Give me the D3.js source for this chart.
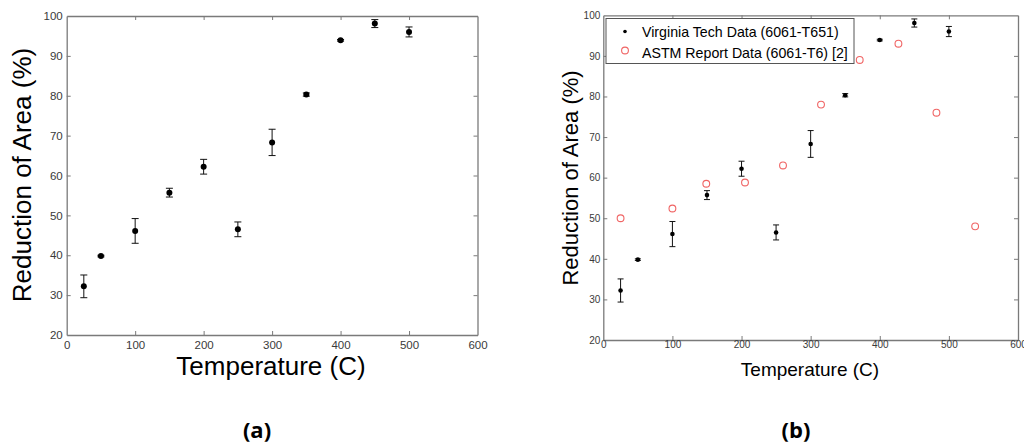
<!DOCTYPE html>
<html>
<head>
<meta charset="utf-8">
<script src="https://cdn.jsdelivr.net/npm/d3@7"></script>
<style>
html,body{margin:0;padding:0;background:#fff;}
svg{display:block;font-family:"Liberation Sans",Arial,sans-serif;}
</style>
</head>
<body>
<svg id="chart" width="1024" height="447"></svg>
<script>
// Virginia Tech data (6061-T651)
const vtTemps = [25, 50, 100, 150, 200, 250, 300, 350, 400, 450, 500];
const vtRA    = [32.2, 39.8, 46.1, 55.7, 62.2, 46.5, 68.3, 80.3, 93.9, 98.1, 96.0];
const vtErr   = [2.85, 0.2, 3.1, 1.1, 1.85, 1.85, 3.3, 0.4, 0.2, 1.0, 1.25];
// ASTM report data (6061-T6) [2]
const astmTemps = [25, 100, 149, 205, 260, 315, 371, 427, 482, 538];
const astmRA    = [50, 52.4, 58.5, 58.8, 63, 78, 89, 93, 76, 48];
// axis ticks
const xTicks = [0, 100, 200, 300, 400, 500, 600];
const yTicks = [20, 30, 40, 50, 60, 70, 80, 90, 100];
const xLabel = "Temperature (C)";
const yLabel = "Reduction of Area (%)";
const legendLabels = ["Virginia Tech Data (6061-T651)", "ASTM Report Data (6061-T6) [2]"];
const captions = ["(a)", "(b)"];

const svg = d3.select("#chart");
const frameColor = "#7a7a7a";
const tickText = "#3a3a3a";
const astmColor = "#f06464";

function drawPanel(cfg) {
  const x = d3.scaleLinear().domain([0, 600]).range([cfg.left, cfg.right]);
  const y = d3.scaleLinear().domain([20, 100]).range([cfg.bottom, cfg.top]);
  const g = svg.append("g");
  const tl = cfg.tickLen;

  // axes with inward ticks
  const axB = d3.axisBottom(x).tickValues(xTicks).tickSizeInner(-tl).tickSizeOuter(0).tickPadding(tl + cfg.xPad);
  const axT = d3.axisTop(x).tickValues(xTicks).tickSizeInner(-tl).tickSizeOuter(0).tickFormat("");
  const axL = d3.axisLeft(y).tickValues(yTicks).tickSizeInner(-tl).tickSizeOuter(0).tickPadding(tl + cfg.yPad);
  const axR = d3.axisRight(y).tickValues(yTicks).tickSizeInner(-tl).tickSizeOuter(0).tickFormat("");

  const gb = g.append("g").attr("transform", `translate(0,${cfg.bottom})`).call(axB);
  const gt = g.append("g").attr("transform", `translate(0,${cfg.top})`).call(axT);
  const gl = g.append("g").attr("transform", `translate(${cfg.left},0)`).call(axL);
  const gr = g.append("g").attr("transform", `translate(${cfg.right},0)`).call(axR);
  [gb, gt, gl, gr].forEach(a => {
    a.select(".domain").attr("stroke", frameColor).attr("stroke-width", 1.3);
    a.selectAll(".tick line").attr("stroke", frameColor).attr("stroke-width", 1);
    a.selectAll(".tick text").attr("fill", tickText).attr("font-size", cfg.tickFont)
      .attr("font-family", "'Liberation Sans', Arial, sans-serif");
  });
  // hide end ticks that sit on the frame corners
  [gb, gt].forEach(a => a.selectAll(".tick line").filter(d => d === 0 || d === 600).remove());
  [gl, gr].forEach(a => a.selectAll(".tick line").filter(d => d === 20 || d === 100).remove());

  // error bars
  const cw = cfg.capW;
  const eb = g.append("g").attr("stroke", "#111").attr("stroke-width", 1);
  vtTemps.forEach((t, i) => {
    const cx = x(t), y1 = y(vtRA[i] + vtErr[i]), y2 = y(vtRA[i] - vtErr[i]);
    eb.append("line").attr("x1", cx).attr("x2", cx).attr("y1", y1).attr("y2", y2);
    eb.append("line").attr("x1", cx - cw).attr("x2", cx + cw).attr("y1", y1).attr("y2", y1);
    eb.append("line").attr("x1", cx - cw).attr("x2", cx + cw).attr("y1", y2).attr("y2", y2);
  });
  g.append("g").selectAll("circle").data(vtTemps).join("circle")
    .attr("cx", d => x(d)).attr("cy", (d, i) => y(vtRA[i])).attr("r", cfg.dotR).attr("fill", "#000");

  if (cfg.astm) {
    g.append("g").selectAll("circle").data(astmTemps).join("circle")
      .attr("cx", d => x(d)).attr("cy", (d, i) => y(astmRA[i])).attr("r", 3.4)
      .attr("fill", "none").attr("stroke", astmColor).attr("stroke-width", 1.1);
  }

  // axis titles
  g.append("text").attr("x", cfg.xTitleX).attr("y", cfg.xTitleY).attr("text-anchor", "middle")
    .attr("font-size", cfg.titleFont).attr("fill", "#000").text(xLabel);
  g.append("text").attr("transform", `translate(${cfg.yTitleX},${cfg.yTitleY}) rotate(-90)`)
    .attr("text-anchor", "middle").attr("font-size", cfg.yTitleFont).attr("fill", "#000").text(yLabel);

  // caption
  g.append("text").attr("x", cfg.capX).attr("y", 438).attr("text-anchor", "middle")
    .attr("font-size", 22).attr("font-weight", "bold").attr("font-family", "'Open Sans', 'Liberation Sans', sans-serif")
    .attr("fill", "#000").text(cfg.caption);

  if (cfg.astm) {
    const lg = g.append("g");
    lg.append("rect").attr("x", 606).attr("y", 18.5).attr("width", 248).attr("height", 45)
      .attr("fill", "#fff").attr("stroke", "#555").attr("stroke-width", 1);
    lg.append("circle").attr("cx", 625).attr("cy", 31.5).attr("r", 1.8).attr("fill", "#000");
    lg.append("circle").attr("cx", 625).attr("cy", 50.5).attr("r", 3.4).attr("fill", "none")
      .attr("stroke", astmColor).attr("stroke-width", 1.1);
    lg.append("text").attr("x", 642).attr("y", 37).attr("font-size", 14.2).attr("fill", "#000").text(legendLabels[0]);
    lg.append("text").attr("x", 642).attr("y", 58).attr("font-size", 14.2).attr("fill", "#000").text(legendLabels[1]);
  }
}

drawPanel({left: 66.7, right: 477.5, top: 16, bottom: 335, tickLen: 4, xPad: 2, yPad: 0,
  tickFont: 11.5, capW: 3.5, dotR: 3, astm: false,
  xTitleX: 271, xTitleY: 375, titleFont: 26, yTitleX: 31, yTitleY: 175, yTitleFont: 26,
  capX: 257, caption: captions[0]});

drawPanel({left: 603.3, right: 1018, top: 15.3, bottom: 340, tickLen: 4, xPad: -3, yPad: -1,
  tickFont: 10, capW: 3, dotR: 2.3, astm: true,
  xTitleX: 810, xTitleY: 376, titleFont: 19, yTitleX: 578, yTitleY: 178, yTitleFont: 22,
  capX: 796, caption: captions[1]});
</script>
</body>
</html>
